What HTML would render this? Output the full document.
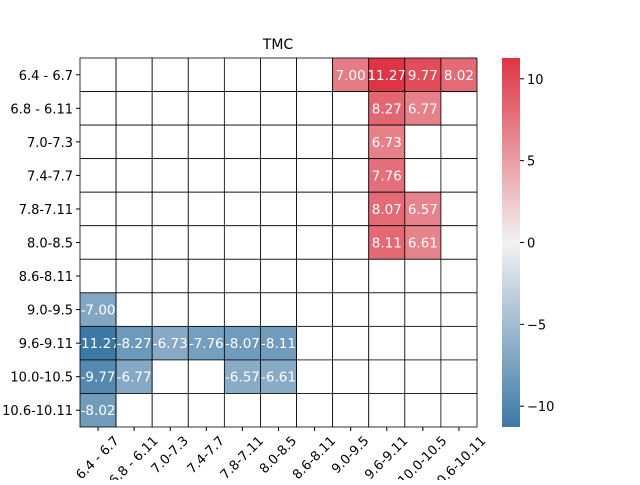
<!DOCTYPE html>
<html><head><meta charset="utf-8"><style>
body{margin:0;background:#fff}
svg{font-family:"DejaVu Sans","Liberation Sans",sans-serif}
</style></head><body>
<svg id="c" width="640" height="480"></svg>
<script>
const rowLabels=["6.4 - 6.7","6.8 - 6.11","7.0-7.3","7.4-7.7","7.8-7.11","8.0-8.5","8.6-8.11","9.0-9.5","9.6-9.11","10.0-10.5","10.6-10.11"];
const colLabels=["6.4 - 6.7","6.8 - 6.11","7.0-7.3","7.4-7.7","7.8-7.11","8.0-8.5","8.6-8.11","9.0-9.5","9.6-9.11","10.0-10.5","10.6-10.11"];
const values=[
[null,null,null,null,null,null,null,7.00,11.27,9.77,8.02],
[null,null,null,null,null,null,null,null,8.27,6.77,null],
[null,null,null,null,null,null,null,null,6.73,null,null],
[null,null,null,null,null,null,null,null,7.76,null,null],
[null,null,null,null,null,null,null,null,8.07,6.57,null],
[null,null,null,null,null,null,null,null,8.11,6.61,null],
[null,null,null,null,null,null,null,null,null,null,null],
[-7.00,null,null,null,null,null,null,null,null,null,null],
[-11.27,-8.27,-6.73,-7.76,-8.07,-8.11,null,null,null,null,null],
[-9.77,-6.77,null,null,-6.57,-6.61,null,null,null,null,null],
[-8.02,null,null,null,null,null,null,null,null,null,null]];
const cbTicks=[10,5,0,-5,-10];
const vmax=11.27,vmin=-11.27;
const L=80,R=477,T=58,B=427;
const svg=document.getElementById('c');const NS='http://www.w3.org/2000/svg';
function mk(t,a,p){const e=document.createElementNS(NS,t);for(const k in a)e.setAttribute(k,a[k]);(p||svg).appendChild(e);return e;}
const cw=(R-L)/colLabels.length,ch=(B-T)/rowLabels.length;
const xS=i=>L+i*cw,yS=j=>T+j*ch;
const blue=[61,121,166],mid=[242,242,242],red=[222,52,67];
function col(v){let t=(v-vmin)/(vmax-vmin);let a,b,u;if(t<0.5){a=blue;b=mid;u=t*2}else{a=mid;b=red;u=(t-0.5)*2}
return 'rgb('+a.map((c,k)=>Math.round(c+(b[k]-c)*u)).join(',')+')';}
const title=mk('text',{x:278,y:49,'font-size':14,'text-anchor':'middle'});title.textContent='TMC';


values.forEach((row,j)=>row.forEach((v,i)=>{
 const r=mk('rect',{x:xS(i),y:yS(j),width:cw,height:ch,fill:v==null?'#fff':col(v),stroke:'#000','stroke-width':0.8});
 
 
 if(v!=null){const t=mk('text',{x:xS(i)+cw/2,y:yS(j)+ch/2+5,'font-size':13.5,fill:'#fff','text-anchor':'middle'});t.textContent=v.toFixed(2);
 
 }
}));
rowLabels.forEach((s,j)=>{const y=yS(j)+ch/2;mk('line',{x1:L-4,x2:L,y1:y,y2:y,stroke:'#000'});
 const t=mk('text',{x:L-7,y:y+5,'font-size':13,'text-anchor':'end'});t.textContent=s;
 
 });
colLabels.forEach((s,i)=>{const x=xS(i)+cw/2;mk('line',{x1:x,x2:x,y1:B,y2:B+4,stroke:'#000'});
 const t=mk('text',{x:x,y:0,'font-size':13,'text-anchor':'middle','dominant-baseline':'central'});t.textContent=s;
 
 
 const w=t.getComputedTextLength(),h=13;
 const cy=B+7.5+(w+h)*0.7071/2;
 t.setAttribute('y',cy);
 t.setAttribute('transform','rotate(-45 '+x+' '+cy+')');});
// colorbar
const cbL=502,cbW=18;
const defs=mk('defs',{});const g=mk('linearGradient',{id:'gr',x1:0,y1:0,x2:0,y2:1},defs);
mk('stop',{offset:'0','stop-color':col(vmax)},g);mk('stop',{offset:'0.5','stop-color':col(0)},g);mk('stop',{offset:'1','stop-color':col(vmin)},g);
const cb=mk('rect',{x:cbL,y:T,width:cbW,height:B-T,fill:'url(#gr)'});


const cy=v=>T+(vmax-v)/(vmax-vmin)*(B-T);
cbTicks.forEach(v=>{const y=cy(v);mk('line',{x1:cbL+cbW,x2:cbL+cbW+4,y1:y,y2:y,stroke:'#000'});
 const t=mk('text',{x:cbL+cbW+7,y:y+5,'font-size':13});t.textContent=v<0?'\u2212'+(-v):String(v);
 
 });
</script>
</body></html>
